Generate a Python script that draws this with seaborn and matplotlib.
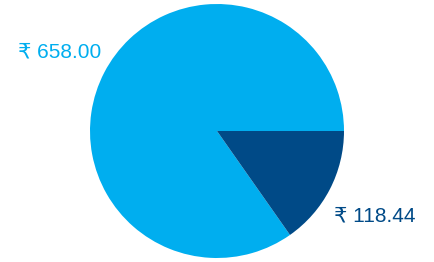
import matplotlib
matplotlib.use("Agg")
import matplotlib.pyplot as plt
import seaborn as sns

sns.set_theme(style="white")
plt.rcParams['font.family'] = ['Liberation Sans', 'DejaVu Sans']

# data
values = [658.00, 118.44]
colors = ["#00AEEF", "#004A87"]
labels = ["₹ {:.2f}".format(v) for v in values]

fig = plt.figure(figsize=(4.34, 2.62), dpi=100)
ax = fig.add_axes([90 / 434, 4 / 262, 254 / 434, 254 / 262])

wedges, texts = ax.pie(values, colors=colors, labels=labels,
                       startangle=0, counterclock=True,
                       labeldistance=1.4,
                       wedgeprops=dict(linewidth=0))
for t, c in zip(texts, colors):
    t.set_color(c)
    t.set_fontsize(15)
    t.set_ha("center")
    t.set_va("center")
    # nudge labels down a little
    x, y = t.get_position()
    t.set_position((x, y - 0.025))

ax.set_xlim(-1, 1)
ax.set_ylim(-1, 1)
ax.set_aspect("auto")

fig.savefig("out.png", dpi=100)
